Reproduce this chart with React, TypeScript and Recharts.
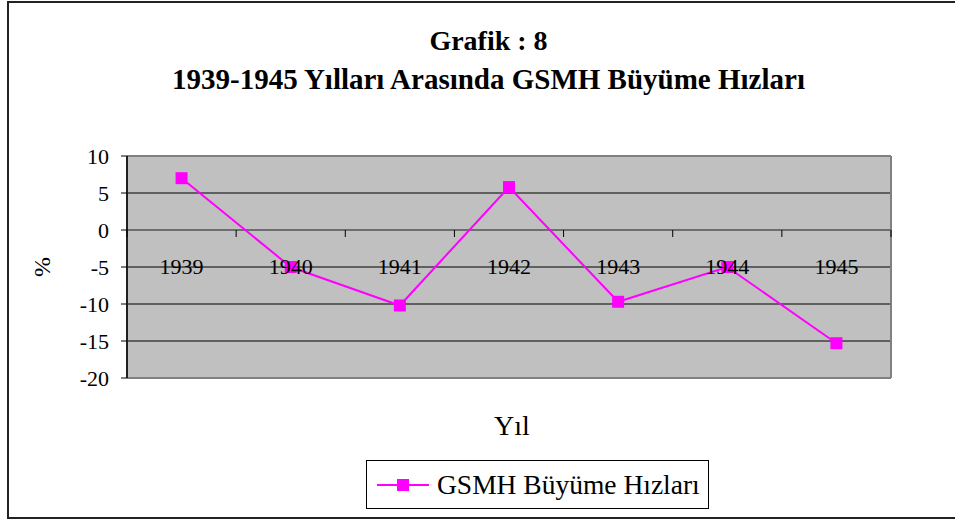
import { LineChart, Line, XAxis, YAxis, CartesianGrid, ReferenceLine, Legend } from 'recharts';

const years = ['1939', '1940', '1941', '1942', '1943', '1944', '1945'];
const growth = [7.0, -5.0, -10.2, 5.8, -9.7, -5.0, -15.3];
const yTicks = [10, 5, 0, -5, -10, -15, -20];
const seriesName = 'GSMH Büyüme Hızları';

const data = years.map((year, i) => ({ year, growth: growth[i] }));

const FONT = '"Liberation Serif", "Times New Roman", serif';
const W = 955;
const H = 519;
const PLOT_LEFT = 127;
const PLOT_TOP = 156;
const PLOT_RIGHT = 891;
const PLOT_BOTTOM = 378;
const PLOT_H = PLOT_BOTTOM - PLOT_TOP;
const BAND = (PLOT_RIGHT - PLOT_LEFT) / years.length;
const Y_MIN = -20;
const Y_MAX = 10;
// category labels sit at the -5 level, axis ticks hang below the 0 line
const LABEL_SHIFT = ((-5 - Y_MIN) / (Y_MAX - Y_MIN)) * PLOT_H;
const ZERO_SHIFT = ((0 - Y_MIN) / (Y_MAX - Y_MIN)) * PLOT_H;

const CategoryTick = (props: any) => {
  const { x, y, payload, index } = props;
  const bottom = y - 8;
  const y0 = bottom - ZERO_SHIFT;
  return (
    <g>
      {index === 0 && (
        <line x1={x - BAND / 2} x2={x - BAND / 2} y1={y0} y2={y0 + 7} stroke="#000" />
      )}
      <line x1={x + BAND / 2} x2={x + BAND / 2} y1={y0} y2={y0 + 7} stroke="#000" />
      <text x={x} y={bottom - LABEL_SHIFT + 7} textAnchor="middle" fontSize={22} fontFamily={FONT} fill="#000">
        {payload.value}
      </text>
    </g>
  );
};

const SquareDot = (props: any) => {
  const { cx, cy } = props;
  if (cx == null || cy == null) return null;
  return <rect x={cx - 6} y={cy - 6} width={12} height={12} fill="#FF00FF" />;
};

const LegendBox = () => (
  <div
    style={{
      width: 341,
      height: 47,
      border: '1px solid #000',
      background: '#fff',
      display: 'flex',
      alignItems: 'center',
      fontFamily: FONT,
      fontSize: 27.5,
      color: '#000',
    }}
  >
    <svg width={60} height={20} style={{ marginLeft: 10 }}>
      <line x1={0} x2={52} y1={10} y2={10} stroke="#FF00FF" strokeWidth={2} />
      <rect x={20} y={4} width={12} height={12} fill="#FF00FF" />
    </svg>
    <span>{seriesName}</span>
  </div>
);

export default function App() {
  return (
    <div style={{ position: 'absolute', left: 0, top: 0, width: W, height: H, background: '#fff', overflow: 'hidden' }}>
      <div
        style={{
          position: 'absolute',
          left: 7,
          top: 1,
          width: 960,
          height: 514,
          border: '2px solid #222',
        }}
      />
      <div
        style={{
          position: 'absolute',
          left: 0,
          width: 977,
          top: 22,
          textAlign: 'center',
          fontFamily: FONT,
          fontWeight: 'bold',
          lineHeight: '38px',
          color: '#000',
        }}
      >
        <div style={{ fontSize: 28 }}>Grafik : 8</div>
        <div style={{ fontSize: 29 }}>1939-1945 Yılları Arasında GSMH Büyüme Hızları</div>
      </div>
      <div
        style={{
          position: 'absolute',
          left: 42,
          top: 267,
          transform: 'translate(-50%, -50%) rotate(-90deg)',
          fontFamily: FONT,
          fontSize: 24,
          color: '#000',
        }}
      >
        %
      </div>
      <div
        style={{
          position: 'absolute',
          left: 512,
          top: 426,
          transform: 'translate(-50%, -50%)',
          fontFamily: FONT,
          fontSize: 28,
          color: '#000',
        }}
      >
        Yıl
      </div>
      <div style={{ position: 'absolute', left: 0, top: 0 }}>
        <LineChart
          width={W}
          height={H}
          data={data}
          margin={{ top: PLOT_TOP, right: W - PLOT_RIGHT, bottom: H - PLOT_BOTTOM - 1, left: PLOT_LEFT - 60 }}
        >
          <CartesianGrid vertical={false} stroke="#000" fill="#C0C0C0" fillOpacity={1} />
          {/* plot frame */}
          <CartesianGrid
            stroke="#808080"
            strokeWidth={2}
            horizontalPoints={[PLOT_TOP, PLOT_BOTTOM]}
            verticalPoints={[PLOT_LEFT, PLOT_RIGHT]}
          />
          <ReferenceLine y={0} stroke="#6e6e6e" strokeWidth={2} />
          <XAxis
            dataKey="year"
            height={1}
            axisLine={false}
            tickLine={false}
            interval={0}
            padding={{ left: BAND / 2, right: BAND / 2 }}
            tick={<CategoryTick />}
          />
          <YAxis
            width={60}
            domain={[Y_MIN, Y_MAX]}
            ticks={yTicks}
            interval={0}
            axisLine={{ stroke: '#000', strokeWidth: 1.5 }}
            tickLine={{ stroke: '#000' }}
            tickSize={6}
            tickMargin={12}
            tick={{ fontSize: 22, fontFamily: FONT, fill: '#000' }}
          />
          <Legend
            layout="horizontal"
            verticalAlign="middle"
            align="center"
            wrapperStyle={{ position: 'absolute', left: 366, top: 460, width: 343, height: 49 }}
            content={<LegendBox />}
          />
          <Line
            type="linear"
            dataKey="growth"
            name={seriesName}
            stroke="#FF00FF"
            strokeWidth={2}
            dot={<SquareDot />}
            activeDot={false}
            isAnimationActive={false}
          />
        </LineChart>
      </div>
    </div>
  );
}
